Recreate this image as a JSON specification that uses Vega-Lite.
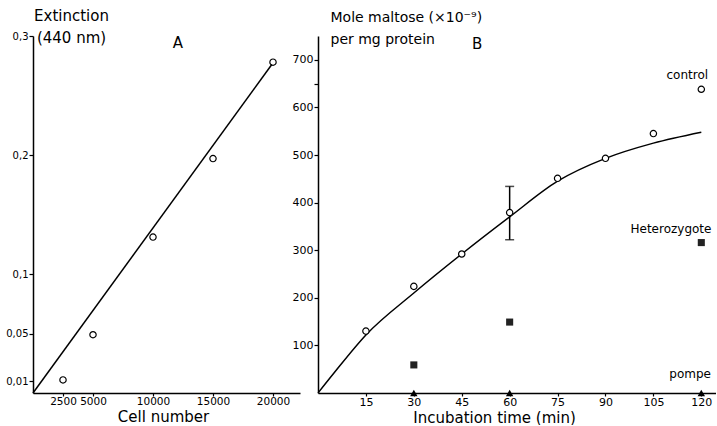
{
  "$schema": "https://vega.github.io/schema/vega-lite/v6.json",
  "background": "white",
  "padding": {"left": 5, "top": 8, "right": 0, "bottom": 0},
  "bounds": "flush",
  "spacing": 18,
  "config": {
    "font": "DejaVu Sans",
    "view": {"stroke": null},
    "axis": {
      "grid": false,
      "domainColor": "black",
      "domainWidth": 1.5,
      "tickColor": "black",
      "tickWidth": 1.2,
      "tickSize": 4,
      "labelColor": "black",
      "titleColor": "black",
      "titleFontWeight": "normal",
      "labelFont": "DejaVu Sans",
      "titleFont": "DejaVu Sans"
    },
    "axisX": {"tickSize": 3, "labelPadding": 0, "titlePadding": 3}
  },
  "datasets": {
    "leftfit": [{"cells": 0, "ext": 0}, {"cells": 19900, "ext": 0.276}],
    "leftpts": [
      {"cells": 2500, "ext": 0.011},
      {"cells": 5000, "ext": 0.049},
      {"cells": 10000, "ext": 0.131},
      {"cells": 15000, "ext": 0.197},
      {"cells": 20000, "ext": 0.278}
    ],
    "fit": [
      {"t": 0, "v": 0},
      {"t": 5, "v": 42},
      {"t": 15, "v": 122},
      {"t": 30, "v": 210},
      {"t": 45, "v": 292},
      {"t": 60, "v": 370},
      {"t": 75, "v": 445},
      {"t": 90, "v": 493},
      {"t": 105, "v": 525},
      {"t": 120, "v": 548}
    ],
    "control": [
      {"t": 15, "v": 130},
      {"t": 30, "v": 224},
      {"t": 45, "v": 292},
      {"t": 60, "v": 379},
      {"t": 75, "v": 451},
      {"t": 90, "v": 493},
      {"t": 105, "v": 545},
      {"t": 120, "v": 638}
    ],
    "err": [{"t": 60, "lo": 322, "hi": 434}],
    "het": [
      {"t": 30, "v": 59},
      {"t": 60, "v": 149},
      {"t": 120, "v": 316}
    ],
    "pompe": [
      {"t": 30, "v": 0},
      {"t": 60, "v": 0},
      {"t": 120, "v": 0}
    ],
    "labels": [
      {"t": 115.6, "v": 669, "text": "control"},
      {"t": 110.5, "v": 345, "text": "Heterozygote"},
      {"t": 116.5, "v": 40, "text": "pompe"}
    ]
  },
  "hconcat": [
    {
      "width": 267,
      "height": 357,
      "layer": [
        {
          "data": {"name": "leftfit"},
          "mark": {"type": "line", "color": "black", "strokeWidth": 1.5},
          "encoding": {
            "x": {
              "field": "cells", "type": "quantitative",
              "scale": {"domain": [0, 22250], "nice": false, "zero": true},
              "axis": {
                "values": [2500, 5000, 10000, 15000, 20000],
                "format": "d",
                "labelFontSize": 10.5,
                "title": "Cell number",
                "titleFontSize": 15,
                "titleX": 130,
                "titleAlign": "center"
              }
            },
            "y": {
              "field": "ext", "type": "quantitative",
              "scale": {"domain": [0, 0.3], "nice": false},
              "axis": {
                "values": [0.01, 0.05, 0.1, 0.2, 0.3],
                "labelExpr": "replace(format(datum.value, '.2~f'), '.', ',')",
                "labelFontSize": 10,
                "labelPadding": 1,
                "title": ["Extinction", "(440 nm)"],
                "titleAngle": 0,
                "titleAlign": "center",
                "titleBaseline": "alphabetic",
                "titleX": 38,
                "titleY": -16,
                "titleFontSize": 15,
                "titleLineHeight": 22
              }
            }
          }
        },
        {
          "data": {"name": "leftpts"},
          "mark": {"type": "point", "shape": "circle", "filled": false, "color": "black", "size": 40, "strokeWidth": 1.2, "opacity": 1},
          "encoding": {
            "x": {"field": "cells", "type": "quantitative"},
            "y": {"field": "ext", "type": "quantitative"}
          }
        },
        {
          "data": {"values": [{"cells": 12083, "ext": 0.294, "text": "A"}]},
          "mark": {"type": "text", "fontSize": 15, "color": "black"},
          "encoding": {
            "x": {"field": "cells", "type": "quantitative"},
            "y": {"field": "ext", "type": "quantitative"},
            "text": {"field": "text"}
          }
        }
      ]
    },
    {
      "width": 398,
      "height": 357,
      "layer": [
        {
          "data": {"name": "fit"},
          "mark": {"type": "line", "color": "black", "strokeWidth": 1.5, "interpolate": "monotone"},
          "encoding": {
            "x": {
              "field": "t", "type": "quantitative",
              "scale": {"domain": [0, 124.6], "nice": false},
              "axis": {
                "values": [15, 30, 45, 60, 75, 90, 105, 120],
                "labelFontSize": 11,
                "title": "Incubation time (min)",
                "titleFontSize": 15,
                "titleX": 176,
                "titleAlign": "center"
              }
            },
            "y": {
              "field": "v", "type": "quantitative",
              "scale": {"domain": [0, 750], "nice": false},
              "axis": {
                "values": [100, 200, 300, 400, 500, 600, 650, 700],
                "labelExpr": "datum.value % 100 == 0 ? datum.label : ''",
                "labelFontSize": 11,
                "labelPadding": 1,
                "title": ["Mole maltose (×10⁻⁹)", "per mg protein"],
                "titleAngle": 0,
                "titleAlign": "left",
                "titleBaseline": "alphabetic",
                "titleX": 12,
                "titleY": -15,
                "titleFontSize": 14,
                "titleLineHeight": 22
              }
            }
          }
        },
        {
          "data": {"name": "err"},
          "mark": {"type": "rule", "color": "black", "strokeWidth": 1.5},
          "encoding": {
            "x": {"field": "t", "type": "quantitative"},
            "y": {"field": "lo", "type": "quantitative"},
            "y2": {"field": "hi"}
          }
        },
        {
          "data": {"name": "err"},
          "mark": {"type": "tick", "orient": "horizontal", "color": "black", "size": 9, "thickness": 1.5},
          "encoding": {
            "x": {"field": "t", "type": "quantitative"},
            "y": {"field": "lo", "type": "quantitative"}
          }
        },
        {
          "data": {"name": "err"},
          "mark": {"type": "tick", "orient": "horizontal", "color": "black", "size": 9, "thickness": 1.5},
          "encoding": {
            "x": {"field": "t", "type": "quantitative"},
            "y": {"field": "hi", "type": "quantitative"}
          }
        },
        {
          "data": {"name": "control"},
          "mark": {"type": "point", "shape": "circle", "filled": true, "fill": "white", "stroke": "black", "size": 40, "strokeWidth": 1.2, "opacity": 1},
          "encoding": {
            "x": {"field": "t", "type": "quantitative"},
            "y": {"field": "v", "type": "quantitative"}
          }
        },
        {
          "data": {"name": "het"},
          "mark": {"type": "square", "color": "#222222", "size": 50, "opacity": 1},
          "encoding": {
            "x": {"field": "t", "type": "quantitative"},
            "y": {"field": "v", "type": "quantitative"}
          }
        },
        {
          "data": {"name": "pompe"},
          "mark": {"type": "point", "shape": "triangle-up", "filled": true, "color": "black", "size": 55, "opacity": 1},
          "encoding": {
            "x": {"field": "t", "type": "quantitative"},
            "y": {"field": "v", "type": "quantitative"}
          }
        },
        {
          "data": {"name": "labels"},
          "mark": {"type": "text", "fontSize": 12, "color": "black", "align": "center", "baseline": "middle"},
          "encoding": {
            "x": {"field": "t", "type": "quantitative"},
            "y": {"field": "v", "type": "quantitative"},
            "text": {"field": "text"}
          }
        },
        {
          "data": {"values": [{"t": 49.8, "v": 733, "text": "B"}]},
          "mark": {"type": "text", "fontSize": 15, "color": "black"},
          "encoding": {
            "x": {"field": "t", "type": "quantitative"},
            "y": {"field": "v", "type": "quantitative"},
            "text": {"field": "text"}
          }
        }
      ]
    }
  ]
}
